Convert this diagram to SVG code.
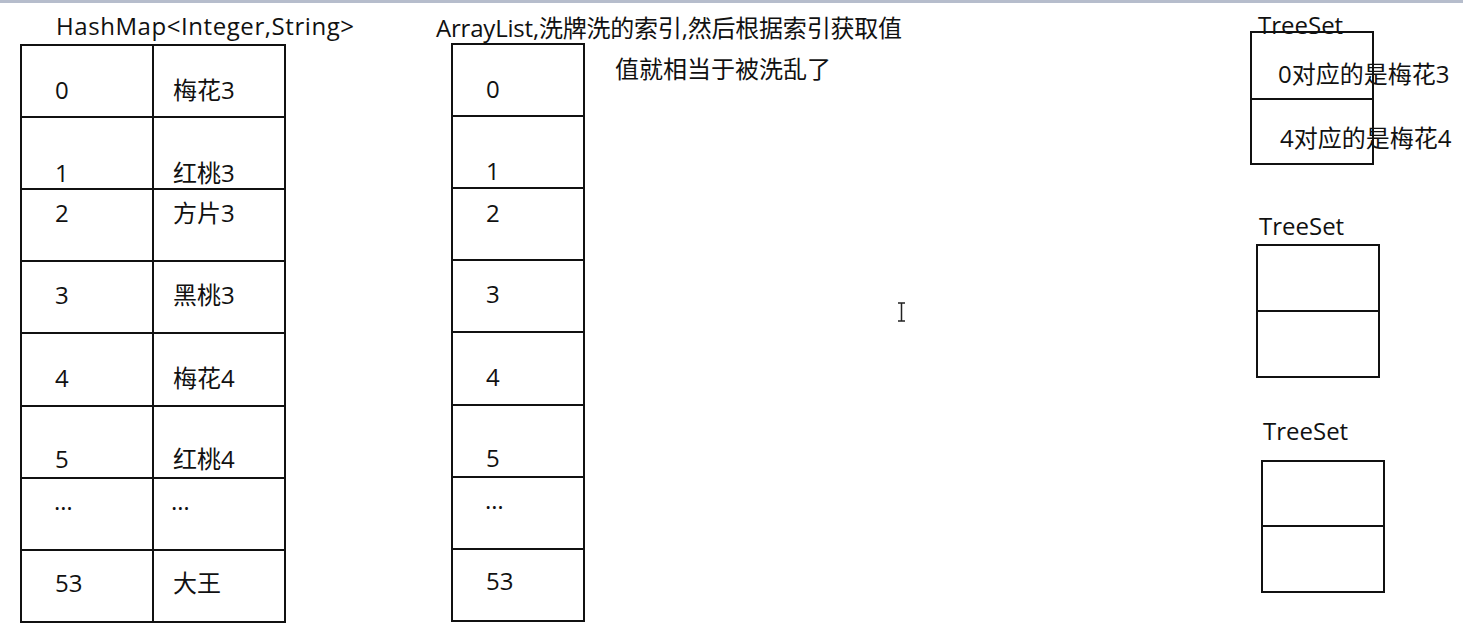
<svg xmlns="http://www.w3.org/2000/svg" width="1463" height="638" viewBox="0 0 1463 638">
<style>
  .t { font-family: "Open Sans", "Noto Sans CJK SC", sans-serif; font-size: 24px; fill: #111; }
  .box { fill: none; stroke: #111; stroke-width: 2; }
  .ln { stroke: #111; stroke-width: 2; }
</style>
<rect x="0" y="0" width="1463" height="638" fill="#ffffff"/>
<rect x="0" y="0" width="1463" height="3" fill="#b6bdcc"/>

<g id="hashmap">
  <text class="t" x="56" y="35" textLength="298" lengthAdjust="spacing">HashMap&lt;Integer,String&gt;</text>
  <rect class="box" x="21" y="45" width="264" height="577"/>
  <line class="ln" x1="153" y1="45" x2="153" y2="622"/>
  <line class="ln" x1="21" y1="117" x2="285" y2="117"/>
  <line class="ln" x1="21" y1="189" x2="285" y2="189"/>
  <line class="ln" x1="21" y1="261" x2="285" y2="261"/>
  <line class="ln" x1="21" y1="333" x2="285" y2="333"/>
  <line class="ln" x1="21" y1="406" x2="285" y2="406"/>
  <line class="ln" x1="21" y1="478" x2="285" y2="478"/>
  <line class="ln" x1="21" y1="550" x2="285" y2="550"/>
  <text class="t" x="55" y="99">0</text><text class="t" x="173" y="99">梅花3</text>
  <text class="t" x="55" y="182">1</text><text class="t" x="173" y="182">红桃3</text>
  <text class="t" x="55" y="222">2</text><text class="t" x="173" y="222">方片3</text>
  <text class="t" x="55" y="304">3</text><text class="t" x="173" y="304">黑桃3</text>
  <text class="t" x="55" y="387">4</text><text class="t" x="173" y="387">梅花4</text>
  <text class="t" x="55" y="468">5</text><text class="t" x="173" y="468">红桃4</text>
  <text class="t" x="54" y="510">…</text><text class="t" x="171" y="510">…</text>
  <text class="t" x="55" y="592">53</text><text class="t" x="173" y="592">大王</text>
</g>

<g id="arraylist">
  <text class="t" x="436" y="37" textLength="466" lengthAdjust="spacing">ArrayList,洗牌洗的索引,然后根据索引获取值</text>
  <text class="t" x="615" y="78">值就相当于被洗乱了</text>
  <rect class="box" x="452" y="44" width="132" height="577"/>
  <line class="ln" x1="452" y1="116" x2="584" y2="116"/>
  <line class="ln" x1="452" y1="188" x2="584" y2="188"/>
  <line class="ln" x1="452" y1="260" x2="584" y2="260"/>
  <line class="ln" x1="452" y1="332" x2="584" y2="332"/>
  <line class="ln" x1="452" y1="405" x2="584" y2="405"/>
  <line class="ln" x1="452" y1="477" x2="584" y2="477"/>
  <line class="ln" x1="452" y1="549" x2="584" y2="549"/>
  <text class="t" x="486" y="98">0</text>
  <text class="t" x="486" y="180">1</text>
  <text class="t" x="486" y="222">2</text>
  <text class="t" x="486" y="303">3</text>
  <text class="t" x="486" y="386">4</text>
  <text class="t" x="486" y="467">5</text>
  <text class="t" x="485" y="509">…</text>
  <text class="t" x="486" y="590">53</text>
</g>

<g id="treeset1">
  <rect class="box" x="1251" y="32" width="122" height="132"/>
  <line class="ln" x1="1251" y1="99" x2="1373" y2="99"/>
  <text class="t" x="1258" y="34">TreeSet</text>
  <text class="t" x="1278" y="83">0对应的是梅花3</text>
  <text class="t" x="1280" y="147">4对应的是梅花4</text>
</g>

<g id="treeset2">
  <text class="t" x="1259" y="235">TreeSet</text>
  <rect class="box" x="1257" y="245" width="122" height="132"/>
  <line class="ln" x1="1257" y1="311" x2="1379" y2="311"/>
</g>

<g id="treeset3">
  <text class="t" x="1263" y="440">TreeSet</text>
  <rect class="box" x="1262" y="461" width="122" height="131"/>
  <line class="ln" x1="1262" y1="526" x2="1384" y2="526"/>
</g>

<g id="connectors"></g>

<g id="cursor" stroke="#222" stroke-width="1.5" fill="none">
  <path d="M898 303 H905 M901.5 303 V321 M898 321 H905"/>
</g>
</svg>
